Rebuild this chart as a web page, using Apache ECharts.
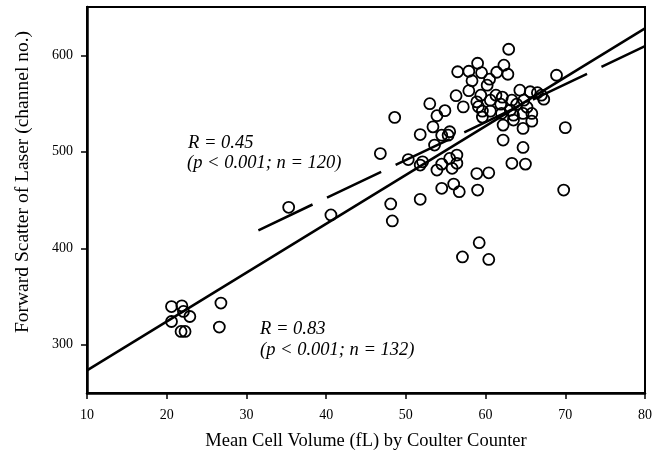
<!DOCTYPE html>
<html>
<head>
<meta charset="utf-8">
<script src="https://cdn.jsdelivr.net/npm/echarts@6/dist/echarts.min.js"></script>
<style>
  html, body { margin: 0; padding: 0; background: #fff; }
  #echarts_scatter { width: 658px; height: 459px; }
</style>
</head>
<body>
<div id="echarts_scatter"></div>
<script>
// MCV (fL) 读图
var mcvData = [
    62.9, 56.5, 57.9, 59.0, 59.5, 62.3, 62.8, 61.4, 58.3, 60.5,
    60.2, 57.9, 56.3, 59.4, 61.3, 62.1, 61.9, 64.3, 65.6, 66.5,
    67.0, 67.3, 68.9, 53.0, 54.9, 53.9, 57.2, 58.9, 59.1, 60.6,
    63.3, 63.9, 64.8, 65.2, 59.6, 60.6, 59.6, 62.0, 63.1, 63.5,
    64.7, 65.8, 48.6, 53.4, 62.2, 63.5, 64.7, 65.8, 51.8, 54.5,
    55.3, 55.5, 70.0, 62.2, 64.7, 53.6, 46.8, 50.3, 51.8, 52.1,
    54.5, 55.5, 56.4, 55.8, 56.4, 53.9, 58.9, 60.4, 63.3, 65.0,
    54.5, 56.0, 56.7, 59.0, 51.8, 48.1, 48.3, 69.8, 59.2, 57.1,
    60.4, 35.3, 40.6,
    20.6, 21.9, 22.1, 22.9, 20.6, 21.8, 22.3, 26.8, 26.6
];
// Forward scatter (channel no.)
var scatterData = [
    606.2, 582.9, 583.4, 591.7, 581.9, 589.7, 580.3, 582.4, 573.6, 575.2,
    569.0, 563.3, 558.1, 558.6, 558.6, 556.6, 549.3, 563.8, 562.2, 561.2,
    558.6, 554.5, 579.3, 549.8, 542.6, 537.4, 546.5, 551.7, 546.7, 553.4,
    553.4, 549.3, 553.4, 546.2, 542.1, 542.1, 535.9, 539.7, 543.1, 537.9,
    539.7, 539.7, 535.6, 525.8, 527.6, 532.8, 524.2, 531.7, 517.8, 517.2,
    517.2, 520.7, 525.0, 512.1, 504.5, 506.9, 498.1, 491.9, 486.2, 489.6,
    487.2, 493.1, 496.6, 482.8, 488.0, 481.0, 477.4, 478.2, 488.0, 487.2,
    462.1, 466.5, 458.6, 460.3, 450.7, 445.9, 428.3, 460.3, 405.8, 391.0,
    388.4, 442.4, 434.5,
    339.6, 340.3, 334.5, 329.3, 324.1, 313.8, 313.8, 343.2, 318.3
];

// 回归线端点
var solidLineX = [10, 80];
var solidLineY = [273.5, 627.8];
var dashLineX = [31.5, 80];
var dashLineY = [418.6, 609.4];

var yTicks = [300, 400, 500, 600];

var fontName = 'Liberation Serif';

function pairs(xs, ys) {
    var out = [];
    for (var i = 0; i < xs.length; i++) {
        out.push([xs[i], ys[i]]);
    }
    return out;
}

function get_scatter_echarts() {
    var myChart = echarts.init(document.getElementById('echarts_scatter'));
    var noteFont = 'italic 18.5px "Liberation Serif"';
    option = {
        animation: false,
        backgroundColor: '#fff',
        grid: {
            left: 87, right: 13, top: 7, bottom: 66,
            show: true,
            borderColor: '#000',
            borderWidth: 2
        },
        xAxis: {
            type: 'value',
            min: 10, max: 80, interval: 10,
            name: 'Mean Cell Volume (fL) by Coulter Counter',
            nameLocation: 'middle',
            nameGap: 39,
            nameTextStyle: { fontFamily: fontName, fontSize: 18.5, color: '#000' },
            axisLine: { show: true, lineStyle: { color: '#000', width: 2.5 } },
            axisTick: { show: true, inside: false, length: 6, lineStyle: { color: '#000', width: 1.5 } },
            axisLabel: { margin: 15, fontFamily: fontName, fontSize: 14, color: '#000' },
            splitLine: { show: false }
        },
        yAxis: {
            type: 'value',
            min: 250, max: 650,
            name: 'Forward Scatter of Laser (channel no.)',
            nameLocation: 'middle',
            nameRotate: 90,
            nameGap: 54,
            nameTextStyle: { fontFamily: fontName, fontSize: 19.5, color: '#000', padding: [0, 0, 0, 36] },
            axisLine: { show: true, lineStyle: { color: '#000', width: 2.5 } },
            axisTick: { show: true, inside: false, length: 6, customValues: yTicks, lineStyle: { color: '#000', width: 1.5 } },
            axisLabel: { margin: 14, fontFamily: fontName, fontSize: 14, color: '#000', customValues: yTicks },
            splitLine: { show: false }
        },
        series: [
            {
                name: 'solid',
                type: 'line',
                data: pairs(solidLineX, solidLineY),
                symbol: 'none',
                lineStyle: { color: '#000', width: 2.5 },
                z: 2
            },
            {
                name: 'dash',
                type: 'line',
                data: pairs(dashLineX, dashLineY),
                symbol: 'none',
                lineStyle: { color: '#000', width: 2.5, type: [60, 16] },
                z: 2
            },
            {
                name: 'points',
                type: 'scatter',
                data: pairs(mcvData, scatterData),
                symbol: 'circle',
                symbolSize: 11,
                itemStyle: {
                    color: 'rgba(0,0,0,0)',
                    borderColor: '#000',
                    borderWidth: 1.8,
                    opacity: 1
                },
                z: 3
            }
        ],
        graphic: [
            {
                type: 'group',
                children: [
                    { type: 'text', left: 188, top: 134, style: { text: 'R = 0.45', font: noteFont, fill: '#000' } },
                    { type: 'text', left: 187, top: 154, style: { text: '(p < 0.001; n = 120)', font: noteFont, fill: '#000' } },
                    { type: 'text', left: 260, top: 320, style: { text: 'R = 0.83', font: noteFont, fill: '#000' } },
                    { type: 'text', left: 260, top: 341, style: { text: '(p < 0.001; n = 132)', font: noteFont, fill: '#000' } }
                ]
            }
        ]
    };

    myChart.setOption(option);
}

get_scatter_echarts();
</script>
</body>
</html>
